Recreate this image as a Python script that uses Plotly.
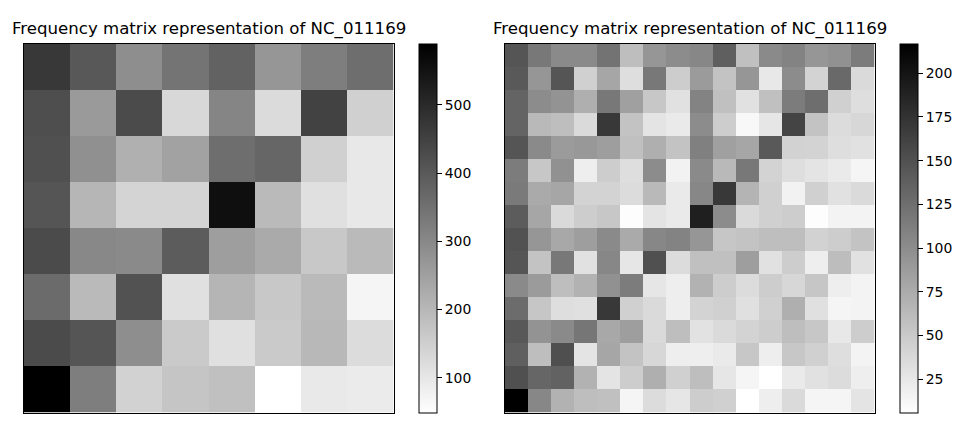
import plotly.graph_objects as go

title_text = "Frequency matrix representation of NC_011169"

# 8x8 matrix
freq_8 = [
    [471, 403, 289, 344, 382, 272, 323, 357],
    [424, 263, 431, 132, 308, 125, 450, 149],
    [420, 284, 217, 246, 357, 374, 149, 98],
    [410, 204, 140, 140, 558, 195, 115, 98],
    [431, 301, 297, 395, 255, 229, 166, 195],
    [363, 195, 416, 115, 206, 166, 195, 70],
    [431, 410, 289, 161, 115, 161, 200, 123],
    [590, 323, 144, 172, 183, 49, 96, 91],
]

# 16x16 matrix
freq_16 = [
    [147, 118, 103, 103, 122, 60, 93, 101, 105, 138, 58, 103, 109, 93, 97, 114],
    [143, 93, 147, 45, 80, 33, 118, 47, 89, 56, 93, 25, 101, 42, 130, 37],
    [134, 101, 95, 72, 118, 85, 52, 31, 109, 58, 31, 58, 114, 126, 45, 33],
    [134, 64, 60, 37, 171, 56, 28, 23, 101, 47, 12, 27, 161, 56, 35, 39],
    [147, 103, 89, 91, 86, 58, 72, 56, 111, 85, 80, 143, 43, 42, 33, 31],
    [114, 52, 97, 20, 47, 33, 101, 17, 103, 64, 118, 42, 33, 28, 23, 14],
    [116, 76, 80, 42, 42, 35, 64, 23, 105, 171, 68, 45, 17, 45, 31, 37],
    [141, 80, 37, 47, 52, 8, 28, 23, 191, 101, 37, 45, 47, 8, 16, 16],
    [149, 93, 78, 86, 103, 76, 105, 109, 93, 53, 56, 60, 60, 43, 47, 56],
    [147, 56, 118, 31, 105, 27, 151, 35, 58, 58, 86, 31, 47, 20, 61, 31],
    [103, 89, 60, 70, 97, 114, 27, 20, 70, 47, 35, 47, 39, 53, 20, 16],
    [128, 53, 33, 32, 171, 45, 37, 20, 42, 45, 32, 45, 72, 32, 14, 16],
    [144, 95, 103, 119, 78, 86, 37, 60, 30, 37, 42, 47, 60, 52, 25, 47],
    [138, 60, 152, 28, 80, 56, 39, 20, 20, 23, 52, 20, 52, 45, 33, 16],
    [151, 133, 136, 70, 28, 47, 72, 45, 60, 27, 14, 6, 23, 31, 35, 20],
    [217, 105, 70, 60, 58, 14, 35, 27, 47, 45, 6, 20, 37, 14, 14, 28],
]

ticks_8 = [100, 200, 300, 400, 500]
ticks_16 = [25, 50, 75, 100, 125, 150, 175, 200]

WIDTH = 966
HEIGHT = 430
gray_r = [[0, "#ffffff"], [1, "#000000"]]
font_family = "DejaVu Sans"

y_domain = [1 - 412.5 / HEIGHT, 1 - 43.5 / HEIGHT]


def colorbar(x_px, ticks):
    return dict(
        x=x_px / WIDTH,
        xanchor="left",
        xpad=0,
        ypad=0,
        y=y_domain[0],
        yanchor="bottom",
        len=y_domain[1] - y_domain[0],
        thickness=18,
        outlinewidth=1,
        outlinecolor="black",
        ticks="outside",
        ticklen=5,
        tickwidth=1,
        tickcolor="black",
        tickvals=ticks,
        tickfont=dict(size=13.9, color="black", family=font_family),
    )


fig = go.Figure()
fig.add_trace(go.Heatmap(z=freq_8, colorscale=gray_r, xaxis="x", yaxis="y",
                         colorbar=colorbar(418.5, ticks_8)))
fig.add_trace(go.Heatmap(z=freq_16, colorscale=gray_r, xaxis="x2", yaxis="y2",
                         colorbar=colorbar(899.5, ticks_16)))

axis_style = dict(showticklabels=False, ticks="", showgrid=False, zeroline=False,
                  showline=True, mirror=True, linecolor="black", linewidth=1)

fig.update_layout(
    width=WIDTH,
    height=HEIGHT,
    margin=dict(l=0, r=0, t=0, b=0),
    paper_bgcolor="white",
    plot_bgcolor="white",
    xaxis=dict(domain=[23.5 / WIDTH, 393.5 / WIDTH], range=[-0.5, 7.5], **axis_style),
    yaxis=dict(domain=y_domain, range=[7.5, -0.5], anchor="x", **axis_style),
    xaxis2=dict(domain=[504.5 / WIDTH, 874.5 / WIDTH], range=[-0.5, 15.5], anchor="y2", **axis_style),
    yaxis2=dict(domain=y_domain, range=[15.5, -0.5], anchor="x2", **axis_style),
)

for centre in [208.5, 689.5]:
    fig.add_annotation(text=title_text, x=centre / WIDTH, y=y_domain[1] + 3 / HEIGHT,
                       xref="paper", yref="paper", xanchor="center", yanchor="bottom",
                       showarrow=False, borderpad=0,
                       font=dict(size=16.6, color="black", family=font_family))

fig.write_html("out.html", post_script="document.body.style.margin='0';",
               config={"displayModeBar": False})
